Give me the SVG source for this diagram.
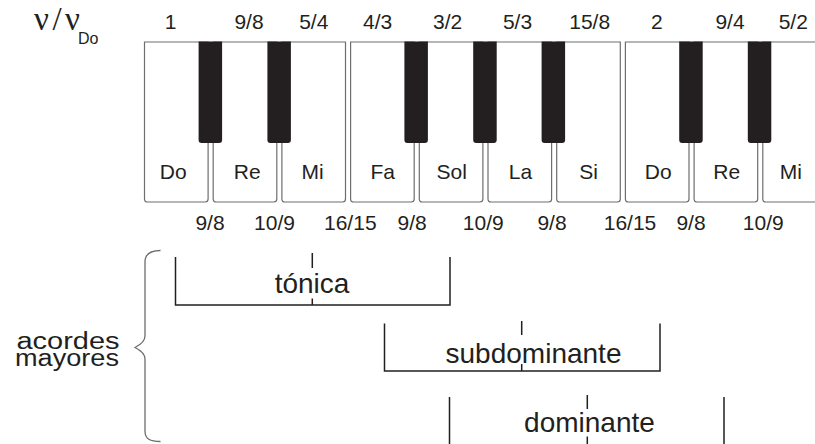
<svg xmlns="http://www.w3.org/2000/svg" xmlns:xlink="http://www.w3.org/1999/xlink" width="815" height="444" viewBox="0 0 815 444">
<style>
text{font-family:"Liberation Sans",Arial,sans-serif;fill:#231f20}
.lbl{font-size:21px;text-anchor:middle}
.big{font-size:28px;text-anchor:middle}
.wk{fill:#fff;stroke:#6d6e71;stroke-width:1.2}
.bk{fill:#231f20}
.br{fill:none;stroke:#231f20;stroke-width:1.5}
.brace{fill:none;stroke:#6d6e71;stroke-width:1.3}
</style>
<defs>
<path id="wkey" class="wk" d="M0,0 H63.6 V157 Q63.6,160 60.6,160 H3 Q0,160 0,157 Z"/>
<path id="bkey" class="bk" d="M0,0 H23.5 V98.5 Q23.5,101.5 20.5,101.5 H3 Q0,101.5 0,98.5 Z"/>
</defs>
<rect width="815" height="444" fill="#fff"/>

<g id="axis-label">
<text x="34" y="30" style="font-family:'Liberation Serif','DejaVu Serif',serif;font-size:33px" textLength="46" lengthAdjust="spacing">ν/ν</text>
<text x="78" y="44" style="font-size:16px">Do</text>
</g>

<g id="keyboard">
<g id="key-do1"><use xlink:href="#wkey" x="144.5" y="42"/><text class="lbl" x="173.3" y="179">Do</text></g>
<g id="key-re1"><use xlink:href="#wkey" x="213.2" y="42"/><text class="lbl" x="247.2" y="179">Re</text></g>
<g id="key-mi1"><use xlink:href="#wkey" x="281.9" y="42"/><text class="lbl" x="312.5" y="179">Mi</text></g>
<g id="key-fa"><use xlink:href="#wkey" x="350.6" y="42"/><text class="lbl" x="382.8" y="179">Fa</text></g>
<g id="key-sol"><use xlink:href="#wkey" x="419.3" y="42"/><text class="lbl" x="451.8" y="179">Sol</text></g>
<g id="key-la"><use xlink:href="#wkey" x="488" y="42"/><text class="lbl" x="520.5" y="179">La</text></g>
<g id="key-si"><use xlink:href="#wkey" x="556.7" y="42"/><text class="lbl" x="588.7" y="179">Si</text></g>
<g id="key-do2"><use xlink:href="#wkey" x="625.4" y="42"/><text class="lbl" x="658.3" y="179">Do</text></g>
<g id="key-re2"><use xlink:href="#wkey" x="694.1" y="42"/><text class="lbl" x="726.7" y="179">Re</text></g>
<g id="key-mi2"><use xlink:href="#wkey" x="762.8" y="42"/><text class="lbl" x="790.8" y="179">Mi</text></g>
<g id="black-keys">
<use xlink:href="#bkey" x="198.6" y="41.4"/>
<use xlink:href="#bkey" x="267.4" y="41.4"/>
<use xlink:href="#bkey" x="404.4" y="41.4"/>
<use xlink:href="#bkey" x="473.2" y="41.4"/>
<use xlink:href="#bkey" x="541.6" y="41.4"/>
<use xlink:href="#bkey" x="679.2" y="41.4"/>
<use xlink:href="#bkey" x="747.8" y="41.4"/>
</g>
</g>

<g id="ratios-top">
<text class="lbl" x="170.5" y="28.5">1</text>
<text class="lbl" x="249" y="28.5">9/8</text>
<text class="lbl" x="313.8" y="28.5">5/4</text>
<text class="lbl" x="377.7" y="28.5">4/3</text>
<text class="lbl" x="447.7" y="28.5">3/2</text>
<text class="lbl" x="517.5" y="28.5">5/3</text>
<text class="lbl" x="589.7" y="28.5">15/8</text>
<text class="lbl" x="656.8" y="28.5">2</text>
<text class="lbl" x="730" y="28.5">9/4</text>
<text class="lbl" x="793.3" y="28.5">5/2</text>
</g>

<g id="ratios-bottom">
<text class="lbl" x="210" y="230">9/8</text>
<text class="lbl" x="274.5" y="230">10/9</text>
<text class="lbl" x="350.3" y="230">16/15</text>
<text class="lbl" x="412.2" y="230">9/8</text>
<text class="lbl" x="483.3" y="230">10/9</text>
<text class="lbl" x="552" y="230">9/8</text>
<text class="lbl" x="630" y="230">16/15</text>
<text class="lbl" x="691" y="230">9/8</text>
<text class="lbl" x="763.3" y="230">10/9</text>
</g>

<g id="acordes-mayores">
<text x="16.5" y="348.5" style="font-size:23px" textLength="103" lengthAdjust="spacingAndGlyphs">acordes</text>
<text x="15" y="366" style="font-size:23px" textLength="104" lengthAdjust="spacingAndGlyphs">mayores</text>
</g>

<g id="connectors">
<path id="brace" class="brace" d="M160.5,250.5 C150,250.5 145,254 145,262 V336 C145,342 140,345 135,347.5 C140,350 145,353 145,359 V431 C145,439 150,441.5 160.5,441.5"/>
<g id="bracket-tonica">
<path class="br" d="M175.5,257 V305 H450 V257 M312.3,253 V268 M312.3,298.5 V305"/>
<text class="big" x="312" y="292.5">tónica</text>
</g>
<g id="bracket-subdominante">
<path class="br" d="M384.5,323.5 V371 H660 V323.5 M521.7,321 V335 M521.7,364 V371"/>
<text class="big" x="533.5" y="363">subdominante</text>
</g>
<g id="bracket-dominante">
<path class="br" d="M449.5,397 V444 M724,397 V444 M587.3,395 V409 M587.3,436.5 V444"/>
<text class="big" x="589.5" y="432">dominante</text>
</g>
</g>
</svg>
